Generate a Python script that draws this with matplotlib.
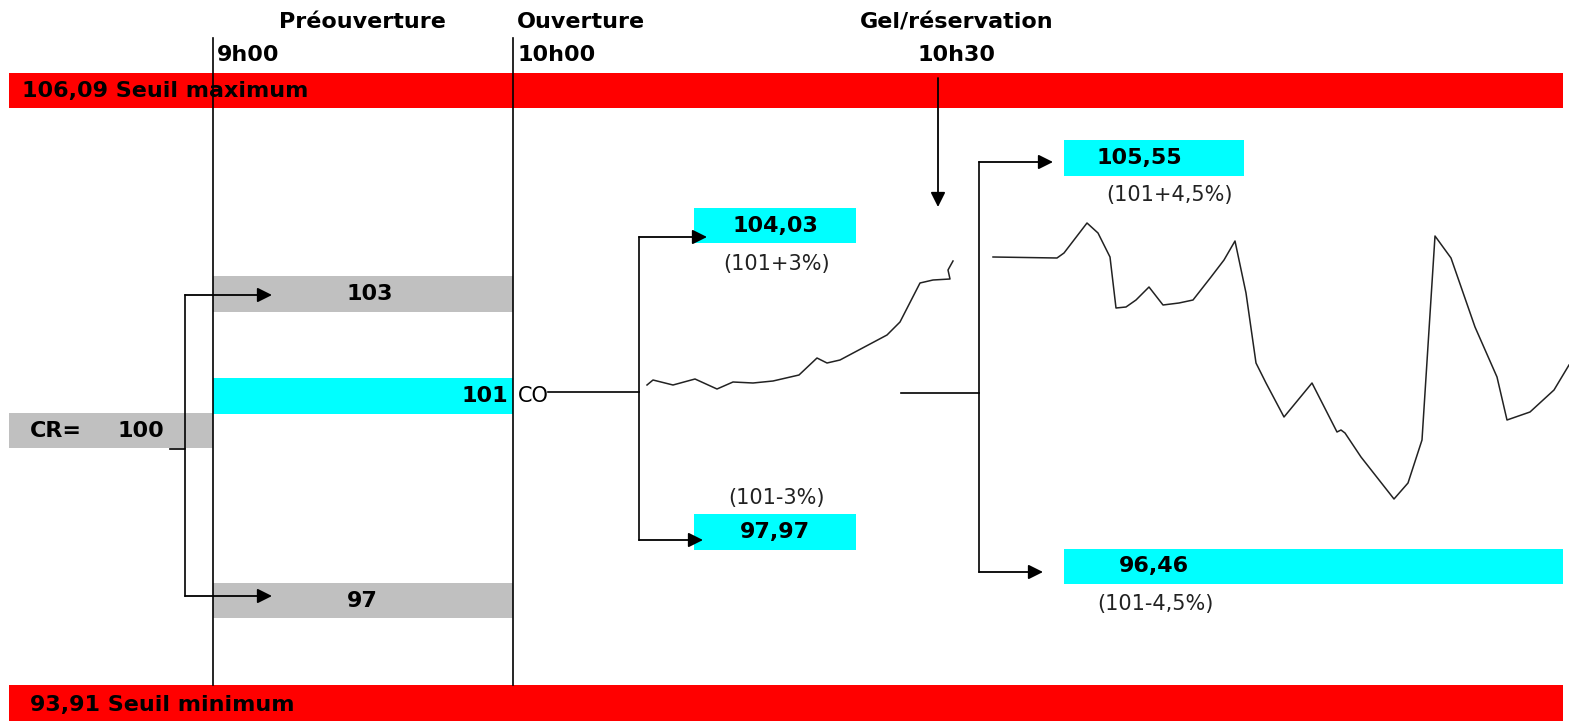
import matplotlib.pyplot as plt

plt.rcParams['font.family'] = ['DejaVu Sans']

# niveaux et libellés
seuil_max = "106,09"
seuil_min = "93,91"
cr = "100"
co = "101"
pre_haut, pre_bas = "103", "97"
ouv_haut, ouv_bas = "104,03", "97,97"
gel_haut, gel_bas = "105,55", "96,46"
ouv_notes = ["(101+3%)", "(101-3%)"]
gel_notes = ["(101+4,5%)", "(101-4,5%)"]
phases = ["Préouverture", "Ouverture", "Gel/réservation"]
heures = ["9h00", "10h00", "10h30"]

# courbe pendant l'ouverture (coordonnées du schéma, en pixels)
courbe1_x = [647, 653, 673, 695, 717, 733, 753, 773, 799, 817, 827, 840, 887, 900, 920, 933, 950, 948, 953]
courbe1_y = [385, 380, 385, 379, 389, 382, 383, 381, 375, 358, 363, 360, 335, 322, 283, 280, 279, 270, 261]

# courbe après le gel
courbe2_x = [993, 1057, 1064, 1087, 1098, 1110, 1116, 1126, 1136, 1149, 1163, 1179, 1193, 1211, 1224,
             1235, 1246, 1256, 1266, 1284, 1312, 1337, 1341, 1345, 1361, 1394, 1408, 1422, 1429, 1435,
             1451, 1475, 1497, 1507, 1530, 1554, 1569]
courbe2_y = [257, 258, 253, 223, 233, 257, 308, 307, 300, 287, 305, 303, 300, 277, 260,
             241, 293, 363, 383, 417, 383, 432, 430, 433, 457, 499, 483, 440, 330, 236,
             258, 327, 377, 420, 412, 390, 365]

RED = '#ff0000'
CYAN = '#00ffff'
GRAY = '#c0c0c0'

fig = plt.figure(figsize=(15.69, 7.21), dpi=100)
ax = fig.add_axes([0, 0, 1, 1])
ax.set_xlim(0, 1569)
ax.set_ylim(721, 0)
ax.axis('off')


def boite(x0, x1, y0, y1, color):
    ax.fill_between([x0, x1], y0, y1, color=color, lw=0, zorder=1)


def fleche(x0, y0, x1, y1):
    ax.annotate('', xy=(x1, y1), xytext=(x0, y0),
                arrowprops=dict(arrowstyle='-|>', color='black', lw=1.3,
                                mutation_scale=22, shrinkA=0, shrinkB=0), zorder=4)


bold = dict(fontweight='bold', fontsize=16, color='black', va='center', zorder=5)
norm = dict(fontsize=15, color='#222222', va='center', zorder=5)

# seuils
boite(9, 1563, 73, 108, RED)
boite(9, 1563, 685, 721, RED)
ax.text(22, 91, seuil_max + " Seuil maximum", ha='left', **bold)
ax.text(30, 705, seuil_min + " Seuil minimum", ha='left', **bold)

# en-têtes
ax.text(362, 22, phases[0], ha='center', **bold)
ax.text(517, 22, phases[1], ha='left', **bold)
ax.text(957, 22, phases[2], ha='center', **bold)
ax.text(217, 55, heures[0], ha='left', **bold)
ax.text(517, 55, heures[1], ha='left', **bold)
ax.text(957, 55, heures[2], ha='center', **bold)

# lignes verticales
ax.plot([213, 213], [38, 685], color='black', lw=1.2, zorder=3)
ax.plot([513, 513], [38, 685], color='black', lw=1.2, zorder=3)
fleche(938, 78, 938, 207)

# préouverture
boite(213, 513, 276, 312, GRAY)
boite(213, 513, 378, 414, CYAN)
boite(213, 513, 583, 618, GRAY)
boite(9, 213, 413, 448, GRAY)
ax.text(370, 294, pre_haut, ha='center', **bold)
ax.text(362, 601, pre_bas, ha='center', **bold)
ax.text(508, 396, co, ha='right', **bold)
ax.text(518, 396, "CO", ha='left', fontsize=15, color='black', va='center', zorder=5)
ax.text(30, 431, "CR=", ha='left', **bold)
ax.text(117, 431, cr, ha='left', **bold)
ax.plot([170, 185, 185], [449, 449, 295], color='black', lw=1.2, zorder=3)
ax.plot([185, 185], [449, 596], color='black', lw=1.2, zorder=3)
fleche(185, 295, 272, 295)
fleche(185, 596, 272, 596)

# ouverture
ax.plot([548, 639], [392, 392], color='black', lw=1.2, zorder=3)
ax.plot([639, 639], [237, 540], color='black', lw=1.2, zorder=3)
fleche(639, 237, 707, 237)
fleche(639, 540, 703, 540)
boite(694, 856, 208, 243, CYAN)
boite(694, 856, 514, 550, CYAN)
ax.text(775, 226, ouv_haut, ha='center', **bold)
ax.text(775, 532, ouv_bas, ha='center', **bold)
ax.text(777, 264, ouv_notes[0], ha='center', **norm)
ax.text(777, 498, ouv_notes[1], ha='center', **norm)
ax.plot(courbe1_x, courbe1_y, color='#222222', lw=1.1, zorder=3)

# gel / réservation
ax.plot([901, 979], [393, 393], color='black', lw=1.2, zorder=3)
ax.plot([979, 979], [162, 572], color='black', lw=1.2, zorder=3)
fleche(979, 162, 1053, 162)
fleche(979, 572, 1043, 572)
boite(1064, 1244, 140, 176, CYAN)
boite(1064, 1563, 549, 584, CYAN)
ax.text(1139, 158, gel_haut, ha='center', **bold)
ax.text(1154, 566, gel_bas, ha='center', **bold)
ax.text(1170, 195, gel_notes[0], ha='center', **norm)
ax.text(1155, 604, gel_notes[1], ha='center', **norm)
ax.plot(courbe2_x, courbe2_y, color='#222222', lw=1.1, zorder=3)

fig.savefig('out.png', dpi=100)
